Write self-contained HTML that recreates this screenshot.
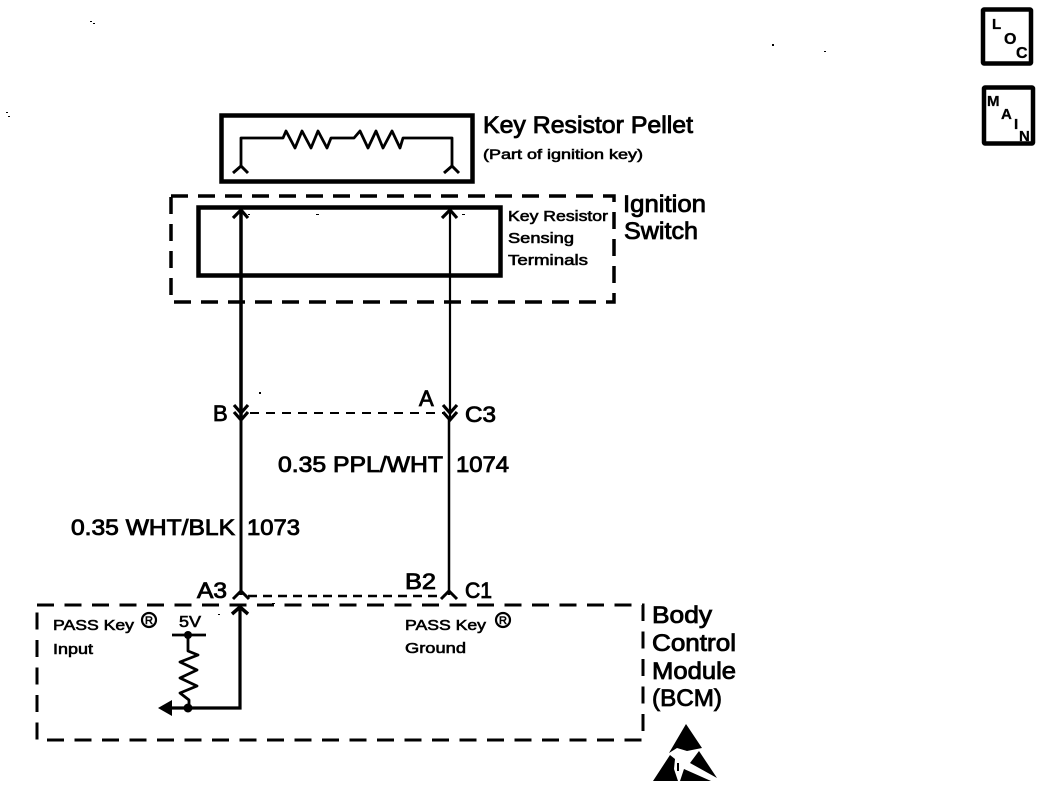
<!DOCTYPE html>
<html><head><meta charset="utf-8"><style>
html,body{margin:0;padding:0;background:#fff}
svg{display:block}
text{font-family:"Liberation Sans",sans-serif;fill:#000;stroke:#000;stroke-width:.85}
.s{stroke-width:.6}
.b{font-weight:bold;stroke-width:.3}
</style></head><body>
<svg width="1056" height="788" viewBox="0 0 1056 788" xmlns="http://www.w3.org/2000/svg">
<rect width="1056" height="788" fill="#fff"/>
<g fill="none" stroke="#000">
<rect x="221.500" y="115.500" width="251" height="66" stroke-width="4.500"/>
<rect x="198.500" y="207.500" width="302" height="68" stroke-width="4.500"/>
<rect x="171" y="196" width="443" height="106" stroke-width="3.500" stroke-dasharray="17 10"/>
<rect x="37" y="605" width="606" height="135" stroke-width="3" stroke-dasharray="17 10.500"/>
<path d="M241 167V138H283L286 131 295 148 302 131 311 148 318 131 327 148 331 138H354L360 131 368 148 376 131 383 148 392 131 400 148 403 138H452V167" stroke-width="2.800" stroke-linejoin="round"/>
<path d="M233 173l8-7 7 7M444 173l8-7 7 7" stroke-width="3"/>
<path d="M233 218l8-8 7 8M442 218l8-8 7 8" stroke-width="3.200"/>
<path d="M241 210V418" stroke-width="3.500"/>
<path d="M450 210V418" stroke-width="2.200"/>
<path d="M234 405l7 8 7-8M443 405l7 8 7-8M234 412l7 8 7-8M443 412l7 8 7-8" stroke-width="3.200"/>
<path d="M241 420V595" stroke-width="3"/>
<path d="M449 420V595" stroke-width="2.500"/>
<path d="M250 413H445" stroke-width="2" stroke-dasharray="9 7"/>
<path d="M248 596H444" stroke-width="2.500" stroke-dasharray="9 6"/>
<path d="M233 599l8-8 8 8M441 599l8-8 8 8" stroke-width="3"/>
<path d="M232 614l8-7 8 7" stroke-width="3.500"/>
<path d="M240 608V708H170" stroke-width="3.200"/>
<path d="M172 635H206" stroke-width="2.800"/>
<path d="M188 635V651L198 655 180 662 197 670 180 678 197 686 180 693 189 700V708" stroke-width="2.800" stroke-linejoin="round"/>
<rect x="983" y="9.500" width="48" height="54" stroke-width="4.500" rx="1"/>
<rect x="984" y="87.500" width="49" height="56" stroke-width="4.500" rx="1"/>
</g>
<circle cx="188" cy="635" r="4"/>
<circle cx="188" cy="708" r="4.500"/>
<path d="M158 708l14-8v16z"/>
<!-- ESD symbol -->
<path d="M686 724L702 748 687 751 677 748 669 753z"/>
<path d="M670 755L653 781H678L674 769 675 759z"/>
<path d="M690 763L699 751 717 778z"/>
<path d="M684 769L711 781H680z"/>
<rect x="677" y="763" width="2" height="8"/>
<!-- specks -->
<g>
<rect x="90" y="21" width="2" height="1"/><rect x="93" y="23" width="2" height="1"/>
<rect x="6" y="112" width="2" height="1"/><rect x="8" y="116" width="2" height="1"/>
<rect x="772" y="44" width="2" height="2"/><rect x="824" y="51" width="2" height="1"/>
<rect x="259" y="392" width="2" height="2"/><rect x="316" y="214" width="3" height="1"/>
<rect x="248" y="214" width="2" height="1"/><rect x="462" y="214" width="3" height="1"/>
<rect x="272" y="603" width="3" height="1"/><rect x="218" y="614" width="2" height="1"/>
</g>
<text x="483" y="133" font-size="24" textLength="210" lengthAdjust="spacingAndGlyphs">Key Resistor Pellet</text>
<text x="483" y="159" class="s" font-size="14" textLength="160" lengthAdjust="spacingAndGlyphs">(Part of ignition key)</text>
<text x="623" y="212" font-size="24" textLength="83" lengthAdjust="spacingAndGlyphs">Ignition</text>
<text x="624" y="239" font-size="24" textLength="74" lengthAdjust="spacingAndGlyphs">Switch</text>
<text x="508" y="221" class="s" font-size="15" textLength="100" lengthAdjust="spacingAndGlyphs">Key Resistor</text>
<text x="508" y="243" class="s" font-size="15" textLength="66" lengthAdjust="spacingAndGlyphs">Sensing</text>
<text x="508" y="265" class="s" font-size="15" textLength="80" lengthAdjust="spacingAndGlyphs">Terminals</text>
<text x="213" y="421" font-size="22">B</text>
<text x="419" y="406" font-size="22">A</text>
<text x="465" y="422" font-size="22" textLength="31" lengthAdjust="spacingAndGlyphs">C3</text>
<text x="278" y="472" font-size="22" textLength="165" lengthAdjust="spacingAndGlyphs">0.35 PPL/WHT</text>
<text x="456" y="472" font-size="22" textLength="53" lengthAdjust="spacingAndGlyphs">1074</text>
<text x="71" y="535" font-size="22" textLength="164" lengthAdjust="spacingAndGlyphs">0.35 WHT/BLK</text>
<text x="247" y="535" font-size="22" textLength="53" lengthAdjust="spacingAndGlyphs">1073</text>
<text x="197" y="598" font-size="22" textLength="30" lengthAdjust="spacingAndGlyphs">A3</text>
<text x="405" y="589" font-size="22" textLength="31" lengthAdjust="spacingAndGlyphs">B2</text>
<text x="465" y="598" font-size="22" textLength="27" lengthAdjust="spacingAndGlyphs">C1</text>
<text x="53" y="630" class="s" font-size="15" textLength="81" lengthAdjust="spacingAndGlyphs">PASS Key</text>
<text x="53" y="654" class="s" font-size="15" textLength="40" lengthAdjust="spacingAndGlyphs">Input</text>
<text x="405" y="630" class="s" font-size="15" textLength="81" lengthAdjust="spacingAndGlyphs">PASS Key</text>
<text x="405" y="653" class="s" font-size="15" textLength="61" lengthAdjust="spacingAndGlyphs">Ground</text>
<circle cx="149" cy="620" r="7" fill="none" stroke="#000" stroke-width="2.200"/>
<circle cx="503" cy="620" r="7" fill="none" stroke="#000" stroke-width="2.200"/>
<text x="149" y="624" font-size="11" text-anchor="middle" class="s">R</text>
<text x="503" y="624" font-size="11" text-anchor="middle" class="s">R</text>
<text x="179" y="627" class="s" font-size="16" textLength="22" lengthAdjust="spacingAndGlyphs">5V</text>
<text x="652" y="623" font-size="24" textLength="60" lengthAdjust="spacingAndGlyphs">Body</text>
<text x="652" y="651" font-size="24" textLength="84" lengthAdjust="spacingAndGlyphs">Control</text>
<text x="652" y="679" font-size="24" textLength="84" lengthAdjust="spacingAndGlyphs">Module</text>
<text x="652" y="706" font-size="24" textLength="70" lengthAdjust="spacingAndGlyphs">(BCM)</text>
<text x="992" y="29" font-size="15" class="b">L</text>
<text x="1004" y="44" font-size="16" class="b">O</text>
<text x="1016" y="58" font-size="16" class="b">C</text>
<text x="987" y="106" font-size="15" class="b">M</text>
<text x="1001" y="119" font-size="15" class="b">A</text>
<text x="1014" y="129" font-size="15" class="b">I</text>
<text x="1019" y="141" font-size="15" class="b">N</text>
</svg>
</body></html>
